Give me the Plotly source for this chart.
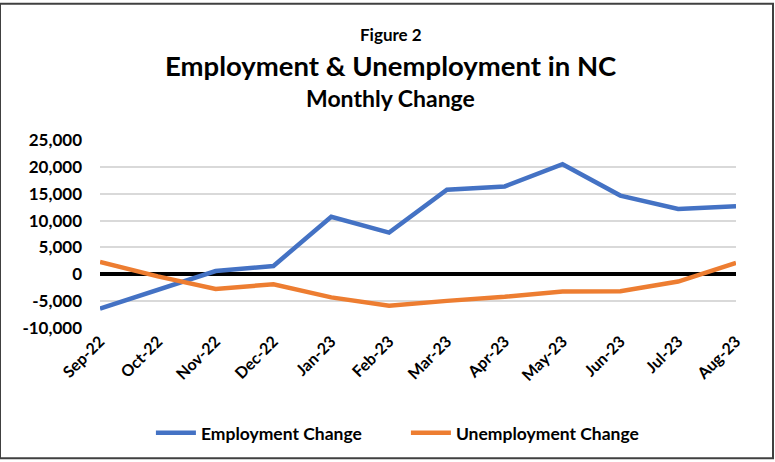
import plotly.graph_objects as go

months = ["Sep-22", "Oct-22", "Nov-22", "Dec-22", "Jan-23", "Feb-23",
          "Mar-23", "Apr-23", "May-23", "Jun-23", "Jul-23", "Aug-23"]
employment_change = [-6400, -2950, 600, 1550, 10700, 7750,
                     15750, 16350, 20500, 14650, 12150, 12650]
unemployment_change = [2300, -400, -2750, -1850, -4300, -5850,
                       -4950, -4200, -3200, -3150, -1350, 2100]
y_ticks = [-10000, -5000, 0, 5000, 10000, 15000, 20000, 25000]
y_tick_labels = ["-10,000", "-5,000", "0", "5,000", "10,000", "15,000", "20,000", "25,000"]

FONT = "Lato"

fig = go.Figure()
fig.add_trace(go.Scatter(x=months, y=employment_change, mode="lines",
                         name="Employment Change",
                         line=dict(color="#4472C4", width=4.5)))
fig.add_trace(go.Scatter(x=months, y=unemployment_change, mode="lines",
                         name="Unemployment Change",
                         line=dict(color="#ED7D31", width=4.5)))

fig.update_layout(
    width=775, height=462,
    margin=dict(l=100, r=39, t=140, b=133),
    paper_bgcolor="white", plot_bgcolor="white",
    font=dict(family=FONT, color="#000000"),
    showlegend=True,
    legend=dict(orientation="h", x=0.481, xanchor="center", y=-0.55, yanchor="middle",
                font=dict(family=FONT, size=17.5, color="#000000", weight="bold"),
                itemwidth=40, entrywidth=200, tracegroupgap=0),
    xaxis=dict(type="category", range=[0, 11], showgrid=False, zeroline=False,
               showline=False, ticks="", tickangle=-45,
               tickfont=dict(family=FONT, size=16, color="#000000", weight="bold")),
    yaxis=dict(range=[-10000, 25000], tickvals=y_ticks, ticktext=y_tick_labels,
               showgrid=True, gridcolor="#D9D9D9", gridwidth=1.5,
               zeroline=True, zerolinecolor="#000000", zerolinewidth=4,
               showline=False, ticks="", ticklabelstandoff=17,
               tickfont=dict(family=FONT, size=17, color="#000000", weight="bold")),
    annotations=[
        dict(text="Figure 2", xref="paper", yref="paper", x=0.457, y=1.0, yshift=106,
             showarrow=False, yanchor="middle",
             font=dict(family=FONT, size=17, weight="bold")),
        dict(text="Employment & Unemployment in NC", xref="paper", yref="paper",
             x=0.457, y=1.0, yshift=75, showarrow=False, yanchor="middle",
             font=dict(family=FONT, size=27.5, weight="bold")),
        dict(text="Monthly Change", xref="paper", yref="paper", x=0.457, y=1.0,
             yshift=42, showarrow=False, yanchor="middle",
             font=dict(family=FONT, size=23, weight="bold")),
    ],
    shapes=[dict(type="rect", xref="paper", yref="paper", layer="above",
                 x0=-100/636, x1=1 + 37/636, y0=-131/189, y1=1 + 137/189,
                 line=dict(color="#404040", width=2))],
)

fig.write_html("out.html")
